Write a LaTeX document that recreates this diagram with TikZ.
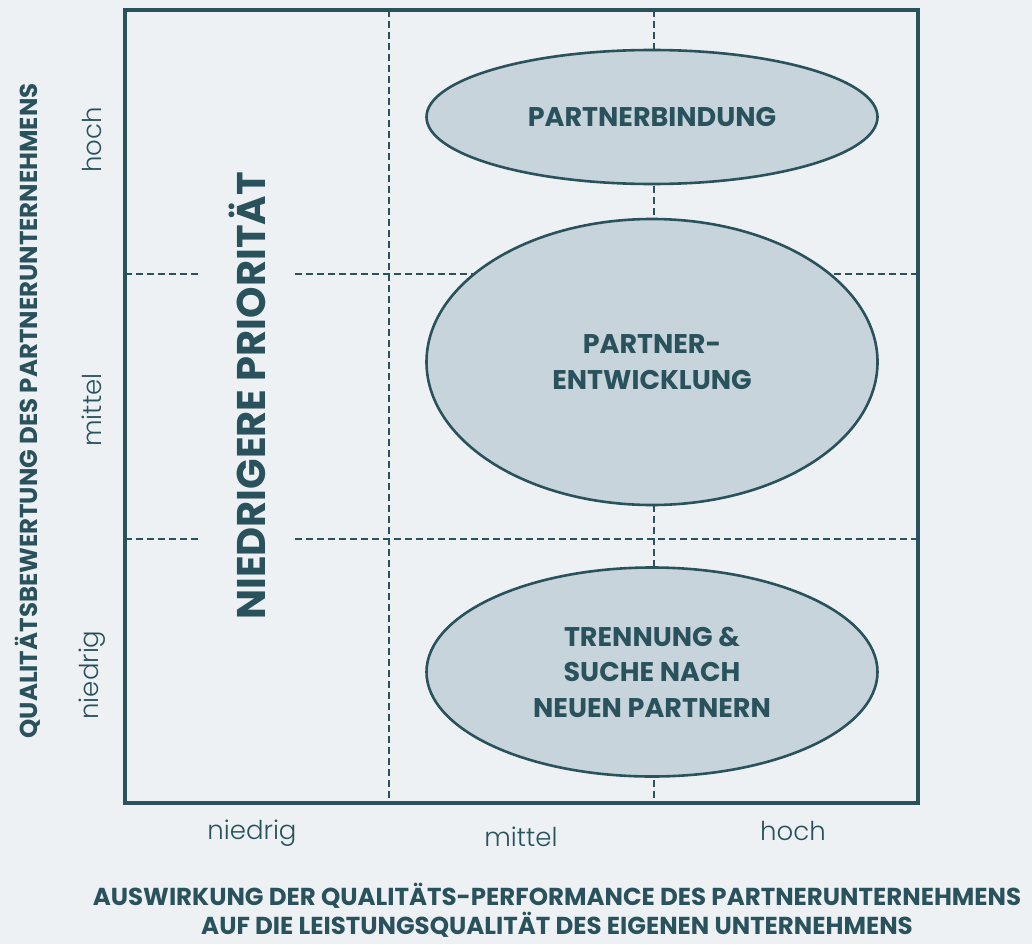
\documentclass[tikz,border=0pt]{standalone}
\usepackage{fontspec}
\setmainfont{Poppins}
\newfontfamily\poplight{Poppins Light}
\usetikzlibrary{shapes.geometric}
\definecolor{bgc}{HTML}{EDF1F4}
\definecolor{ink}{HTML}{2A525C}
\definecolor{fillc}{HTML}{C8D4DB}
\tikzset{
  frame/.style={draw=ink, line width=3.2pt},
  grid/.style={draw=ink, line width=2.8pt, dash pattern=on 7pt off 4pt},
  blob/.style={ellipse, draw=ink, line width=2.6pt, fill=fillc, inner sep=0pt, text=ink,
     font=\bfseries\fontsize{27}{35.5}\selectfont, align=center},
  lvl/.style={text=ink, font=\poplight\fontsize{26}{30}\selectfont, inner sep=0pt},
  axt/.style={text=ink, font=\bfseries\fontsize{24.5}{29}\selectfont, inner sep=0pt, align=center}
}
\begin{document}
\begin{tikzpicture}[x=1pt,y=-1pt]
\useasboundingbox (0,0) rectangle (1032,944);
\fill[bgc] (0,0) rectangle (1032,944);
% grid
\coordinate (v1t) at (389,10); \coordinate (v1b) at (389,803);
\coordinate (v2t) at (654,10); \coordinate (v2b) at (654,803);
\draw[grid] (v1t) -- (v1b);
\draw[grid] (v2t) -- (v2b);
\coordinate (h1a) at (125,274); \coordinate (h1b) at (200,274);
\coordinate (h1c) at (295,274); \coordinate (h1d) at (918,274);
\coordinate (h2a) at (125,539); \coordinate (h2b) at (200,539);
\coordinate (h2c) at (295,539); \coordinate (h2d) at (918,539);
\draw[grid] (h1a) -- (h1b) (h1c) -- (h1d);
\draw[grid] (h2a) -- (h2b) (h2c) -- (h2d);
\draw[frame] (125,10) rectangle (918,803);
% ellipses
\node[blob, minimum width=451pt, minimum height=134pt] (pb) at (652,117) {PARTNERBINDUNG};
\node[blob, minimum width=451pt, minimum height=286pt] (pe) at (652,362) {PARTNER-\\ENTWICKLUNG};
\node[blob, minimum width=451pt, minimum height=209pt] (tr) at (652,672) {TRENNUNG \&\\SUCHE NACH\\NEUEN PARTNERN};
% big label
\node[text=ink, font=\bfseries\fontsize{40}{44}\selectfont, rotate=90, inner sep=0pt] (np) at (247,396) {NIEDRIGERE PRIORITÄT};
% y levels
\node[lvl, rotate=90] (yh) at (92,140) {hoch};
\node[lvl, rotate=90] (ym) at (92,410) {mittel};
\node[lvl, rotate=90] (yn) at (92,675) {niedrig};
% x levels
\node[lvl] (xn) at (252,833) {niedrig};
\node[lvl] (xm) at (521,837) {mittel};
\node[lvl] (xh) at (793,831) {hoch};
% axis titles
\node[axt, rotate=90] (ytitle) at (28,411) {QUALITÄTSBEWERTUNG DES PARTNERUNTERNEHMENS};
\node[axt] (xtitle) at (557,910) {AUSWIRKUNG DER QUALITÄTS-PERFORMANCE DES PARTNERUNTERNEHMENS\\AUF DIE LEISTUNGSQUALITÄT DES EIGENEN UNTERNEHMENS};
\end{tikzpicture}
\end{document}
